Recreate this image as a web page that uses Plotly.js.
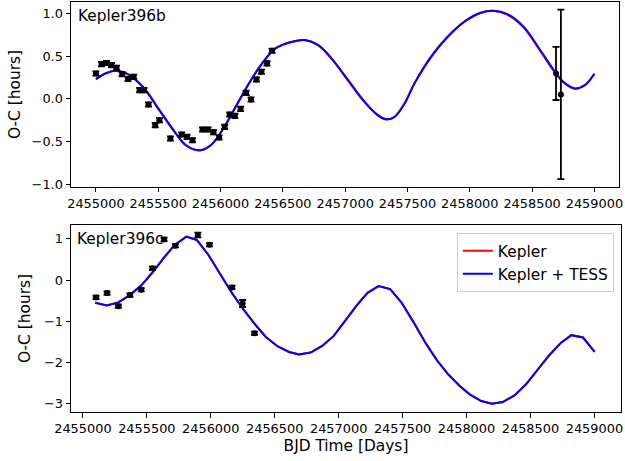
<!DOCTYPE html>
<html>
<head>
<meta charset="utf-8">
<script src="https://cdn.plot.ly/plotly-3.0.1.min.js"></script>
<style>html,body{margin:0;padding:0;background:#fff;}#chart{width:625px;height:461px;}</style>
</head>
<body>
<div id="chart"></div>
<script>
// ---------- Kepler-396b (top panel) ----------
const bKeplerTime = [2455000, 2455045, 2455085, 2455125, 2455165, 2455210, 2455257, 2455303, 2455351, 2455385,
  2455422, 2455476, 2455510, 2455598, 2455688, 2455731, 2455775, 2455855, 2455900, 2455943,
  2455988, 2456033, 2456073, 2456115, 2456161, 2456205, 2456245, 2456288, 2456328, 2456373, 2456413];
const bKeplerOC = [0.298, 0.407, 0.420, 0.395, 0.364, 0.290, 0.232, 0.258, 0.103, 0.103,
  -0.064, -0.306, -0.248, -0.462, -0.415, -0.443, -0.482, -0.357, -0.357, -0.388,
  -0.450, -0.326, -0.181, -0.198, -0.116, 0.071, -0.006, 0.228, 0.317, 0.415, 0.563];
const bKeplerErr = [0.025, 0.025, 0.025, 0.025, 0.025, 0.025, 0.025, 0.025, 0.025, 0.025,
  0.025, 0.025, 0.025, 0.025, 0.025, 0.025, 0.025, 0.025, 0.025, 0.025,
  0.025, 0.025, 0.025, 0.025, 0.025, 0.025, 0.025, 0.025, 0.025, 0.025, 0.025];
const bTessTime = [2458692, 2458731];
const bTessOC = [0.298, 0.053];
const bTessErr = [0.31, 0.99];

const bModelTime = [2455000, 2455080, 2455151, 2455245, 2455377, 2455510, 2455643, 2455723, 2455829, 2455922,
  2456014, 2456121, 2456227, 2456333, 2456440, 2456572, 2456679, 2456785, 2456891, 2457024,
  2457157, 2457263, 2457329, 2457396, 2457476, 2457555, 2457688, 2457821, 2457954, 2458086,
  2458193, 2458299, 2458432, 2458565, 2458684, 2458751, 2458843, 2458923, 2459000];
const bKeplerTessModel = [0.232, 0.300, 0.329, 0.298, 0.142, -0.131, -0.404, -0.540, -0.599, -0.540,
  -0.365, -0.092, 0.181, 0.415, 0.591, 0.668, 0.688, 0.629, 0.474, 0.220,
  -0.034, -0.189, -0.236, -0.209, -0.053, 0.181, 0.492, 0.726, 0.902, 1.007,
  1.030, 0.992, 0.843, 0.571, 0.317, 0.200, 0.123, 0.161, 0.295];
const bKeplerModel = [0.232, 0.300, 0.329, 0.296, 0.138, -0.136, -0.408, -0.543, -0.601, -0.541,
  -0.366, -0.094, 0.178, 0.412, 0.588, 0.666, 0.686, 0.624, 0.467, 0.212,
  -0.041, -0.195, -0.240, -0.211, -0.056, 0.176, 0.486, 0.720, 0.897, 1.004,
  1.028, 0.986, 0.833, 0.560, 0.308, 0.193, 0.120, 0.160, 0.295];

// ---------- Kepler-396c (bottom panel) ----------
const cKeplerTime = [2455103, 2455189, 2455277, 2455368, 2455456, 2455544, 2455635, 2455723, 2455899, 2455990,
  2456166, 2456249, 2456342];
const cKeplerOC = [-0.422, -0.317, -0.634, -0.366, -0.237, 0.285, 0.990, 0.837, 1.098, 0.861,
  -0.178, -0.570, -1.293];
const cKeplerErr = [0.04, 0.04, 0.04, 0.04, 0.04, 0.04, 0.04, 0.04, 0.057, 0.04,
  0.04, 0.085, 0.04];

const cModelTime = [2455096, 2455187, 2455277, 2455368, 2455459, 2455549, 2455640, 2455718, 2455809, 2455891,
  2455982, 2456068, 2456159, 2456249, 2456340, 2456431, 2456521, 2456612, 2456690, 2456781,
  2456871, 2456962, 2457053, 2457143, 2457226, 2457312, 2457403, 2457493, 2457584, 2457675,
  2457765, 2457856, 2457947, 2458025, 2458115, 2458198, 2458284, 2458375, 2458465, 2458556,
  2458647, 2458737, 2458820, 2458911, 2459002];
const cKeplerTessModel = [-0.553, -0.617, -0.544, -0.366, -0.122, 0.202, 0.568, 0.854, 1.056, 0.976,
  0.610, 0.163, -0.285, -0.690, -1.056, -1.383, -1.610, -1.749, -1.812, -1.763,
  -1.602, -1.358, -0.993, -0.610, -0.310, -0.146, -0.220, -0.553, -1.017, -1.505,
  -1.934, -2.293, -2.578, -2.780, -2.944, -3.007, -2.968, -2.805, -2.537, -2.195,
  -1.829, -1.529, -1.341, -1.398, -1.749];
const cKeplerModel = [-0.553, -0.617, -0.544, -0.366, -0.122, 0.202, 0.568, 0.854, 1.056, 0.976,
  0.610, 0.163, -0.285, -0.690, -1.056, -1.383, -1.610, -1.749, -1.812, -1.763,
  -1.602, -1.358, -0.993, -0.610, -0.310, -0.146, -0.220, -0.553, -1.017, -1.505,
  -1.934, -2.293, -2.578, -2.780, -2.944, -3.007, -2.968, -2.805, -2.537, -2.195,
  -1.829, -1.529, -1.341, -1.398, -1.749];

const xTicks = [2455000, 2455500, 2456000, 2456500, 2457000, 2457500, 2458000, 2458500, 2459000];

const FONT = 'DejaVu Sans, Verdana, sans-serif';
const TICKFS = 12.9, LABFS = 15.4;

function errTrace(x, y, e, xa, ya) {
  return {
    x: x, y: y, xaxis: xa, yaxis: ya, type: 'scatter', mode: 'markers', showlegend: false,
    marker: {color: 'black', size: 6},
    error_y: {type: 'data', array: e, visible: true, color: 'black', thickness: 1.8, width: 3.5},
    hoverinfo: 'skip'
  };
}

const traces = [
  {x: bModelTime, y: bKeplerModel, xaxis: 'x', yaxis: 'y', mode: 'lines', showlegend: false,
   line: {color: 'red', width: 2, shape: 'spline', smoothing: 1}},
  {x: bModelTime, y: bKeplerTessModel, xaxis: 'x', yaxis: 'y', mode: 'lines', showlegend: false,
   line: {color: 'blue', width: 2, shape: 'spline', smoothing: 1}},
  errTrace(bKeplerTime, bKeplerOC, bKeplerErr, 'x', 'y'),
  errTrace(bTessTime, bTessOC, bTessErr, 'x', 'y'),
  {x: cModelTime, y: cKeplerModel, xaxis: 'x2', yaxis: 'y2', mode: 'lines', name: 'Kepler',
   line: {color: 'red', width: 2}},
  {x: cModelTime, y: cKeplerTessModel, xaxis: 'x2', yaxis: 'y2', mode: 'lines', name: 'Kepler + TESS',
   line: {color: 'blue', width: 2}},
  errTrace(cKeplerTime, cKeplerOC, cKeplerErr, 'x2', 'y2')
];

const axBase = {
  showline: true, mirror: true, linecolor: 'black', linewidth: 1,
  ticks: 'outside', ticklen: 4.5, tickwidth: 1, tickcolor: 'black',
  showgrid: false, zeroline: false, ticklabeloverflow: 'allow',
  tickfont: {family: FONT, size: TICKFS, color: 'black'}
};

const layout = {
  width: 625, height: 461,
  margin: {l: 71, r: 4, t: 2, b: 49},
  paper_bgcolor: 'white', plot_bgcolor: 'white',
  font: {family: FONT, color: 'black'},
  showlegend: true,
  legend: {
    x: 0.987, xanchor: 'right', y: 0.436, yanchor: 'top',
    bgcolor: 'rgba(255,255,255,0.8)', bordercolor: '#cccccc', borderwidth: 1,
    font: {family: FONT, size: LABFS, color: 'black'}
  },
  xaxis: Object.assign({}, axBase, {
    domain: [0, 0.997], anchor: 'y', range: [2454800, 2459200],
    tickmode: 'array', tickvals: xTicks, ticktext: xTicks.map(String)
  }),
  yaxis: Object.assign({}, axBase, {
    domain: [0.5488, 1], anchor: 'x', range: [-1.028, 1.132],
    tickmode: 'array', tickvals: [-1, -0.5, 0, 0.5, 1], tickformat: '.1f',
    title: {text: 'O-C [hours]', standoff: 7, font: {family: FONT, size: LABFS, color: 'black'}}
  }),
  xaxis2: Object.assign({}, axBase, {
    domain: [0, 1], anchor: 'y2', range: [2454907, 2459208],
    tickmode: 'array', tickvals: xTicks, ticktext: xTicks.map(String),
    title: {text: 'BJD Time [Days]', standoff: 5, font: {family: FONT, size: LABFS, color: 'black'}}
  }),
  yaxis2: Object.assign({}, axBase, {
    domain: [0, 0.4561], anchor: 'x2', range: [-3.21, 1.34],
    tickmode: 'array', tickvals: [-3, -2, -1, 0, 1],
    title: {text: 'O-C [hours]', font: {family: FONT, size: LABFS, color: 'black'}}
  }),
  annotations: [
    {text: 'Kepler396b', xref: 'x domain', yref: 'y domain', x: 0.01, y: 0.985,
     xanchor: 'left', yanchor: 'top', showarrow: false,
     font: {family: FONT, size: LABFS, color: 'black'}},
    {text: 'Kepler396c', xref: 'x2 domain', yref: 'y2 domain', x: 0.008, y: 0.985,
     xanchor: 'left', yanchor: 'top', showarrow: false,
     font: {family: FONT, size: LABFS, color: 'black'}}
  ]
};

Plotly.newPlot('chart', traces, layout, {displayModeBar: false, staticPlot: true});
</script>
</body>
</html>
